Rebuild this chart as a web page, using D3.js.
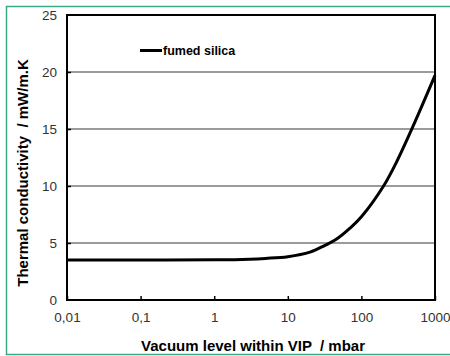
<!DOCTYPE html>
<html>
<head>
<meta charset="utf-8">
<script src="https://cdn.jsdelivr.net/npm/d3@7"></script>
<style>
  body { margin: 0; background: #fff; }
  svg { display: block; font-family: "Liberation Sans", Arial, sans-serif; }
</style>
</head>
<body>
<div id="chart"></div>
<script>
// values
var pressure = [0.01, 0.1, 1, 3, 5, 10, 20, 32, 45, 70, 100, 200, 300, 500, 1000];
var conductivity = [3.5, 3.5, 3.52, 3.58, 3.65, 3.8, 4.2, 4.8, 5.3, 6.3, 7.3, 10, 12.1, 15.2, 19.7];
var xTicks = [0.01, 0.1, 1, 10, 100, 1000];
var xTickLabels = ["0,01", "0,1", "1", "10", "100", "1000"];
var yTicks = [0, 5, 10, 15, 20, 25];
var seriesName = "fumed silica";

var width = 450, height = 356;
var margin = {top: 15, right: 15, bottom: 56, left: 67};

var svg = d3.select("#chart").append("svg").attr("width", width).attr("height", height);

// green outer frame
svg.append("rect")
  .attr("x", 6.5).attr("y", 6.5)
  .attr("width", width + 10).attr("height", 348)
  .attr("fill", "none").attr("stroke", "#3aa98a").attr("stroke-width", 1.5);

var x = d3.scaleLog().domain([0.01, 1000]).range([margin.left, width - margin.right]);
var y = d3.scaleLinear().domain([0, 25]).range([height - margin.bottom, margin.top]);

//gridlines
svg.selectAll(".grid")
  .data(yTicks.filter(function(d) { return d > 0 && d < 25; }))
  .enter().append("line")
  .attr("x1", x(0.01)).attr("x2", x(1000))
  .attr("y1", function(d) { return y(d); }).attr("y2", function(d) { return y(d); })
  .attr("stroke", "#7a7a7a").attr("stroke-width", 1.3);

// axes with inward ticks
var xAxis = svg.append("g")
  .attr("transform", "translate(0," + y(0) + ")")
  .call(d3.axisBottom(x).tickValues(xTicks).tickSize(-4).tickPadding(10)
    .tickFormat(function(d, i) { return xTickLabels[i]; }));

var yAxis = svg.append("g")
  .attr("transform", "translate(" + x(0.01) + ",0)")
  .call(d3.axisLeft(y).tickValues(yTicks).tickSize(-4).tickPadding(10));

[xAxis, yAxis].forEach(function(a) {
  a.select(".domain").remove();
  a.selectAll(".tick line").attr("stroke", "#000").attr("stroke-width", 1.5);
  a.selectAll("text").attr("font-size", 13.5).attr("fill", "#333")
    .attr("font-family", "'Liberation Sans', Arial, sans-serif");
});
xAxis.selectAll("text").attr("dy", "0.9em");
yAxis.selectAll(".tick").filter(function(d) { return d === 0 || d === 25; }).select("line").remove();

// plot frame
svg.append("rect")
  .attr("x", x(0.01)).attr("y", y(25))
  .attr("width", x(1000) - x(0.01)).attr("height", y(0) - y(25))
  .attr("fill", "none").attr("stroke", "#000").attr("stroke-width", 2);

// curve
var line = d3.line()
  .x(function(d, i) { return x(pressure[i]); })
  .y(function(d) { return y(d); })
  .curve(d3.curveCatmullRom.alpha(0.5));

svg.append("path")
  .attr("d", line(conductivity))
  .attr("fill", "none").attr("stroke", "#000").attr("stroke-width", 3);

// legend
svg.append("line")
  .attr("x1", 140).attr("x2", 162).attr("y1", 50.5).attr("y2", 50.5)
  .attr("stroke", "#000").attr("stroke-width", 3);
svg.append("text")
  .attr("x", 163).attr("y", 55)
  .attr("font-size", 12.5).attr("font-weight", "bold")
  .text(seriesName);

// axis titles
svg.append("text")
  .attr("x", 253).attr("y", 351)
  .attr("text-anchor", "middle").attr("font-size", 15).attr("font-weight", "bold")
  .attr("xml:space", "preserve")
  .text("Vacuum level within VIP  / mbar");

svg.append("text")
  .attr("transform", "translate(28," + 173 + ") rotate(-90)")
  .attr("text-anchor", "middle").attr("font-size", 15).attr("font-weight", "bold")
  .attr("xml:space", "preserve")
  .text("Thermal conductivity  / mW/m.K");
</script>
</body>
</html>
